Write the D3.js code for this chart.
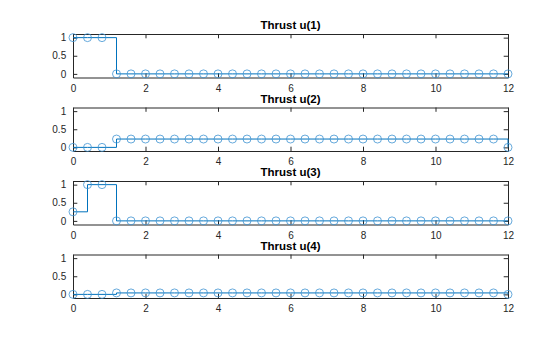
<!DOCTYPE html>
<html>
<head>
<meta charset="utf-8">
<script src="https://cdn.jsdelivr.net/npm/d3@7/dist/d3.min.js"></script>
<style>
  html, body { margin: 0; padding: 0; background: #fff; }
  svg { display: block; }
</style>
</head>
<body>
<svg id="chart" width="560" height="337"></svg>
<script>
// ---- data ----
const time = [0, 0.4, 0.8, 1.2, 1.6, 2.0, 2.4, 2.8, 3.2, 3.6, 4.0, 4.4, 4.8, 5.2, 5.6, 6.0,
              6.4, 6.8, 7.2, 7.6, 8.0, 8.4, 8.8, 9.2, 9.6, 10.0, 10.4, 10.8, 11.2, 11.6, 12.0];
const u1 = [1, 1, 1, 0, 0, 0, 0, 0, 0, 0, 0, 0, 0, 0, 0, 0,
            0, 0, 0, 0, 0, 0, 0, 0, 0, 0, 0, 0, 0, 0, 0];
const u2 = [0, 0, 0, 0.23, 0.23, 0.23, 0.23, 0.23, 0.23, 0.23, 0.23, 0.23, 0.23, 0.23, 0.23, 0.23,
            0.23, 0.23, 0.23, 0.23, 0.23, 0.23, 0.23, 0.23, 0.23, 0.23, 0.23, 0.23, 0.23, 0.23, 0];
const u3 = [0.25, 1, 1, 0, 0, 0, 0, 0, 0, 0, 0, 0, 0, 0, 0, 0,
            0, 0, 0, 0, 0, 0, 0, 0, 0, 0, 0, 0, 0, 0, 0];
const u4 = [0, 0, 0, 0.04, 0.04, 0.04, 0.04, 0.04, 0.04, 0.04, 0.04, 0.04, 0.04, 0.04, 0.04, 0.04,
            0.04, 0.04, 0.04, 0.04, 0.04, 0.04, 0.04, 0.04, 0.04, 0.04, 0.04, 0.04, 0.04, 0.04, 0];
const titles = ["Thrust u(1)", "Thrust u(2)", "Thrust u(3)", "Thrust u(4)"];
const xTicks = [0, 2, 4, 6, 8, 10, 12];
const yTicks = [0, 0.5, 1];
const xDomain = [0, 12];
const yDomain = [-0.1, 1.1];

// ---- layout ----
const series = [u1, u2, u3, u4];
const left = 73, right = 508;
const tops = [34, 107.5, 181, 254.5];
const h = 43.5;
const axColor = "#262626";
const lineColor = "#0072BD";
const tickLen = 4.3;
const font = "'Liberation Sans', Arial, Helvetica, sans-serif";

const svg = d3.select("#chart");
const x = d3.scaleLinear().domain(xDomain).range([left, right]);

series.forEach((vals, k) => {
  const top = tops[k], bottom = top + h;
  const y = d3.scaleLinear().domain(yDomain).range([bottom, top]);
  const g = svg.append("g");
  const data = time.map((t, i) => ({t, v: vals[i]}));

  // bottom axis (ticks inward)
  const xb = g.append("g").attr("transform", `translate(0,${bottom})`)
    .call(d3.axisBottom(x).tickValues(xTicks).tickFormat(d3.format("d"))
      .tickSizeInner(-tickLen).tickSizeOuter(0).tickPadding(tickLen + 3));
  // top axis
  const xt = g.append("g").attr("transform", `translate(0,${top})`)
    .call(d3.axisTop(x).tickValues(xTicks).tickFormat("").tickSizeInner(-tickLen).tickSizeOuter(0));
  // left axis
  const yl = g.append("g").attr("transform", `translate(${left},0)`)
    .call(d3.axisLeft(y).tickValues(yTicks).tickFormat(d => d === 0.5 ? "0.5" : d3.format("d")(d))
      .tickSizeInner(-tickLen).tickSizeOuter(0).tickPadding(tickLen + 2.5));
  // right axis
  const yr = g.append("g").attr("transform", `translate(${right},0)`)
    .call(d3.axisRight(y).tickValues(yTicks).tickFormat("").tickSizeInner(-tickLen).tickSizeOuter(0));

  [xb, xt, yl, yr].forEach(a => {
    a.selectAll(".domain").attr("stroke", axColor).attr("stroke-width", 1);
    a.selectAll(".tick line").attr("stroke", axColor).attr("stroke-width", 1);
    a.selectAll("text").attr("fill", axColor).style("font-family", font).style("font-size", "10px");
  });

  // stairs line
  const line = d3.line().x(d => x(d.t)).y(d => y(d.v)).curve(d3.curveStepAfter);
  g.append("path").datum(data).attr("d", line)
    .attr("fill", "none").attr("stroke", lineColor).attr("stroke-width", 1);

  // markers
  g.selectAll("circle.m").data(data).enter().append("circle")
    .attr("class", "m")
    .attr("cx", d => x(d.t)).attr("cy", d => y(d.v)).attr("r", 4)
    .attr("fill", "none").attr("stroke", "#3f93d2").attr("stroke-width", 0.8);

  // title
  g.append("text").attr("x", (left + right) / 2).attr("y", top - 5)
    .attr("text-anchor", "middle").attr("fill", "#000")
    .style("font-family", font).style("font-weight", "bold").style("font-size", "11.5px")
    .text(titles[k]);
});
</script>
</body>
</html>
